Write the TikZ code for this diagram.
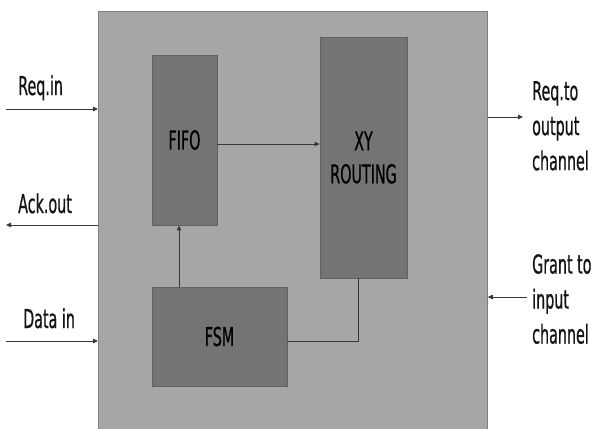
\documentclass[tikz,border=0pt]{standalone}
\usepackage{fontspec}
\setmainfont{DejaVu Sans}[FakeStretch=0.55,FakeBold=0.6]
\usetikzlibrary{arrows.meta}
\definecolor{fondgris}{RGB}{166,166,166}
\definecolor{blocgris}{RGB}{116,116,116}
\definecolor{trait}{RGB}{55,55,55}
\tikzset{
  bloc/.style={draw=black!62, line width=0.8pt, fill=blocgris, inner sep=0pt, align=center, font=\fontsize{26}{33}\selectfont},
  fleche/.style={draw=trait, line width=0.9pt, -{Triangle[length=5pt,width=4.5pt]}},
  liaison/.style={draw=trait, line width=0.9pt},
  etiq/.style={inner sep=0pt, text=black!92, font=\fontsize{26}{35}\selectfont},
  etiqbloc/.style={etiq, align=left}
}
\begin{document}
\begin{tikzpicture}[x=1pt, y=-1pt]
	\clip (0,0) rectangle (598,429);
	\fill[white] (0,0) rectangle (598,429);
	% boîte du routeur
	\node[draw=black!50, line width=0.8pt, fill=fondgris, inner sep=0pt, anchor=north west, minimum width=389pt, minimum height=440pt] (routeur) at (98,11) {};
	\node[bloc, minimum width=65pt, minimum height=170pt] (fifo) at (184.5,140) {FIFO};
	\node[bloc, minimum width=87pt, minimum height=241pt] (xy) at (363.5,157.5) {XY\\ROUTING};
	\node[bloc, minimum width=135pt, minimum height=99pt] (fsm) at (219.5,336.5) {FSM};
	\draw[fleche] ([yshift=-4pt]fifo.east) -- ([yshift=-4pt]fifo.east -| xy.west);
	\draw[fleche] ([xshift=-5.5pt]fifo.south |- fsm.north) -- ([xshift=-5.5pt]fifo.south);
	\draw[liaison] ([yshift=-4.5pt]fsm.east) -| ([xshift=-5.5pt]xy.south);
	% entrées et sorties
	\coordinate (reqin) at (6,109);
	\coordinate (ackout) at (6,225);
	\coordinate (datain) at (6,341);
	\coordinate (reqout) at (523,117);
	\coordinate (grantin) at (527,297);
	\draw[fleche] (reqin) -- (reqin -| routeur.west);
	\draw[fleche] (ackout -| routeur.west) -- (ackout);
	\draw[fleche] (datain) -- (datain -| routeur.west);
	\draw[fleche] (reqout -| routeur.east) -- (reqout);
	\draw[fleche] (grantin) -- (grantin -| routeur.east);
	\node[etiq, anchor=base west] (lreqin) at (18,95) {Req.in};
	\node[etiq, anchor=base west] (lackout) at (18,213) {Ack.out};
	\node[etiq, anchor=base west] (ldatain) at (23,328) {Data in};
	\node[etiqbloc, anchor=north west] (lreqout) at (532,81) {Req.to\\output\\channel};
	\node[etiqbloc, anchor=north west] (lgrantin) at (532,254) {Grant to\\input\\channel};
\end{tikzpicture}
\end{document}
